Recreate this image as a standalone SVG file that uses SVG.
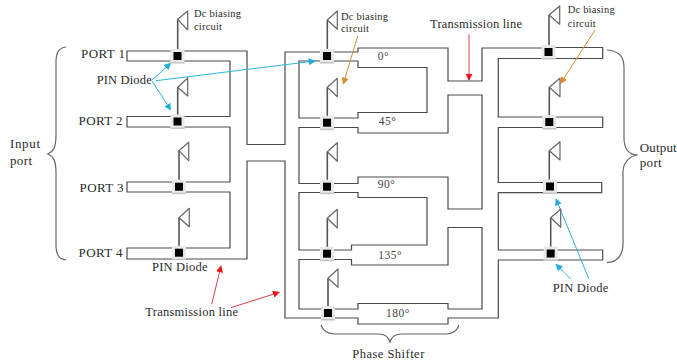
<svg xmlns="http://www.w3.org/2000/svg" width="677" height="362" viewBox="0 0 677 362">
<style>
text{font-family:"Liberation Serif","Times New Roman",serif;fill:#2b2b2b}
.l{font-size:12.5px}
.p{font-size:13px}
.s{font-size:10.5px;letter-spacing:.2px}
.d{font-size:11.5px;letter-spacing:.5px;fill:#444}
.w{fill:none;stroke:#4a4a4a;stroke-width:1.2}
.b{fill:none;stroke:#666;stroke-width:1.2}
.f{fill:none;stroke:#666;stroke-width:1.2;stroke-linejoin:round}
.st{fill:none;stroke:#555;stroke-width:1.6}
.h{fill:#e9e9e9}
.h2{fill:#c4c4c4}
.k{fill:#000}
.ab{fill:none;stroke:#2cb3dd;stroke-width:1}
.ao{fill:none;stroke:#d98a3d;stroke-width:1}
.ar{fill:none;stroke:#d4404a;stroke-width:1}
</style>
<defs>
<marker id="mb" viewBox="0 0 10 10" refX="9" refY="5" markerWidth="7" markerHeight="7" markerUnits="userSpaceOnUse" orient="auto"><path d="M0 0L10 5L0 10z" fill="#1eaede"/></marker>
<marker id="mo" viewBox="0 0 10 10" refX="9" refY="5" markerWidth="7" markerHeight="7" markerUnits="userSpaceOnUse" orient="auto"><path d="M0 0L10 5L0 10z" fill="#e08a2c"/></marker>
<marker id="mr" viewBox="0 0 10 10" refX="9" refY="5" markerWidth="7" markerHeight="7" markerUnits="userSpaceOnUse" orient="auto"><path d="M0 0L10 5L0 10z" fill="#ee1111"/></marker>
<g id="diode"><rect class="h" x="-7" y="-7" width="14" height="14"/><rect class="h2" x="-7" y="6" width="14" height="1.5"/><rect class="k" x="-4" y="-4" width="8" height="8"/></g>
</defs>
<g id="connectors">
<path class="w" d="M177 51H127V61H177M177 51H247V144.5H285V52H327M177 61H230V116.5H177M177 116.5H127V127H177M177 127H230V182H179M179 182H127V192H179M179 192H230V248H179M179 248H127V259H247V161H285V318H328"/>
<path class="w" d="M327 61H299V118H327M327 52H358V48H448V81H482V48H548M327 61H358V67.5H427V112.5H358V118H327M327 127.5H299V183.5H327M327 127.5H358V133H448V95H482V209H448V177H358V183.5H327M327 192.5H299V250H327M327 192.5H358V197.5H427V245H351.5V250H327M327 259.5H299V309H328M327 259.5H351.5V265H448V227.5H482V309H448V303.5H358V309H328M328 318H358V324H448V318H498.3V260H550"/>
<path class="w" d="M548 47.5H602.7V58.5H548M548 58.5H498.3V117H549M549 117H602.7V127.5H549M549 127.5H498.3V182.5H550M550 182.5H601.7V192.7H550M550 192.7H498.3V250H551M551 250H602.7V260H551"/>
<path class="ab" marker-end="url(#mb)" d="M152 80L170.7 63.3"/>
<path class="ab" marker-end="url(#mb)" d="M152 81L170.7 110"/>
<path class="ab" marker-end="url(#mb)" d="M156 80.7L315 61"/>
<path class="ab" marker-end="url(#mb)" d="M589 279L556 199"/>
<path class="ab" marker-end="url(#mb)" d="M570.7 279L556 264.3"/>
<path class="ao" marker-end="url(#mo)" d="M357.7 36L343.3 84"/>
<path class="ao" marker-end="url(#mo)" d="M595 30L560.7 83.3"/>
<path class="ar" marker-end="url(#mr)" d="M469 34.3V80"/>
<path class="ar" marker-end="url(#mr)" d="M211.7 304.3L221 266"/>
<path class="ar" marker-end="url(#mr)" d="M230.7 307.7L279.3 292.3"/>
</g>
<g id="brace-input"><path class="b" d="M66 47C59 48 56 52 56 62V135C56 148 53 152 47.7 154C53 156 56 160 56 173V245C56 255 59 259 66 260"/></g>
<g id="brace-output"><path class="b" d="M607 50C619 51 624 56 624 68V138C624 150 630 155 638 155C630 156 623 162 623 172V243C623 255 618 262 607 262.7"/></g>
<g id="brace-phase"><path class="b" d="M321 325C323 331 327 334 335 334H378C385 334 389 337 390 342.7C391 337 395 334 402 334H446C453 334 457 331 459 325"/></g>
<g id="n-p1"><path class="st" d="M177.7 52V19.5"/><path class="f" d="M177.7 19.3L187.7 11V30z"/><use href="#diode" x="177.5" y="56"/></g>
<g id="n-p2"><path class="st" d="M177.7 118V87.3"/><path class="f" d="M177.7 87.3L187.7 78V96z"/><use href="#diode" x="177.5" y="121.5"/></g>
<g id="n-p3"><path class="st" d="M179 183V150.7"/><path class="f" d="M179 150.7L188.7 142.3V160.7z"/><use href="#diode" x="179" y="186.7"/></g>
<g id="n-p4"><path class="st" d="M179 249V217.7"/><path class="f" d="M179 217.7L189.3 208.3V226.7z"/><use href="#diode" x="179" y="252.7"/></g>
<g id="n-m1"><path class="st" d="M327.3 52V20"/><path class="f" d="M327.3 20L337.3 11V29.3z"/><use href="#diode" x="327" y="56"/></g>
<g id="n-m2"><path class="st" d="M327.3 118V87.3"/><path class="f" d="M327.3 87.3L337.3 78.3V96.7z"/><use href="#diode" x="327" y="122.7"/></g>
<g id="n-m3"><path class="st" d="M327.3 183V151.7"/><path class="f" d="M327.3 151.7L337.3 142.7V161.3z"/><use href="#diode" x="327" y="186.7"/></g>
<g id="n-m4"><path class="st" d="M327.3 250V218.3"/><path class="f" d="M327.3 218.3L337.3 209.3V228z"/><use href="#diode" x="327" y="253.7"/></g>
<g id="n-m5"><path class="st" d="M328 309V278.3"/><path class="f" d="M328 278.3L338 269V287.3z"/><use href="#diode" x="328" y="313"/></g>
<g id="n-o1"><path class="st" d="M549 48V15"/><path class="f" d="M549 15L559.7 6V24.3z"/><use href="#diode" x="548.5" y="52"/></g>
<g id="n-o2"><path class="st" d="M549.3 117V87.3"/><path class="f" d="M549.3 87.3L560 78.3V96.7z"/><use href="#diode" x="549.3" y="122"/></g>
<g id="n-o3"><path class="st" d="M549.3 182V150.7"/><path class="f" d="M549.3 150.7L560 141.7V160z"/><use href="#diode" x="550" y="186.5"/></g>
<g id="n-o4"><path class="st" d="M550.7 250V217.7"/><path class="f" d="M550.7 217.7L560.7 209V227.3z"/><use href="#diode" x="550.7" y="253.5"/></g>
<g id="labels">
<text class="p" x="81" y="58" textLength="44">PORT 1</text>
<text class="p" x="78.5" y="125" textLength="44">PORT 2</text>
<text class="p" x="79.5" y="191.7" textLength="44">PORT 3</text>
<text class="p" x="78.5" y="256.7" textLength="44">PORT 4</text>
<text class="l" x="96.7" y="84" textLength="55">PIN Diode</text>
<text class="l" x="152" y="270.7" textLength="55.5">PIN Diode</text>
<text class="l" x="552.7" y="291.7" textLength="55.5">PIN Diode</text>
<text class="p" x="10" y="148" textLength="30">Input</text>
<text class="p" x="10" y="165" textLength="22">port</text>
<text class="p" x="639.7" y="151.7" textLength="37">Output</text>
<text class="p" x="639.7" y="166.7" textLength="22">port</text>
<text class="s" x="194" y="17">Dc biasing</text>
<text class="s" x="194" y="30">circuit</text>
<text class="s" x="341" y="19.5">Dc biasing</text>
<text class="s" x="341" y="32">circuit</text>
<text class="s" x="567.7" y="13.3">Dc biasing</text>
<text class="s" x="567.7" y="26.7">circuit</text>
<text class="l" x="430" y="28" textLength="92">Transmission line</text>
<text class="l" x="145.3" y="315.7" textLength="92.7">Transmission line</text>
<text class="l" x="352.3" y="357.7" textLength="72">Phase Shifter</text>
<text class="d" x="377.7" y="60.3">0°</text>
<text class="d" x="378.7" y="125">45°</text>
<text class="d" x="377.7" y="188.3">90°</text>
<text class="d" x="378.3" y="258.7">135°</text>
<text class="d" x="386" y="317.3">180°</text>
</g>
</svg>
